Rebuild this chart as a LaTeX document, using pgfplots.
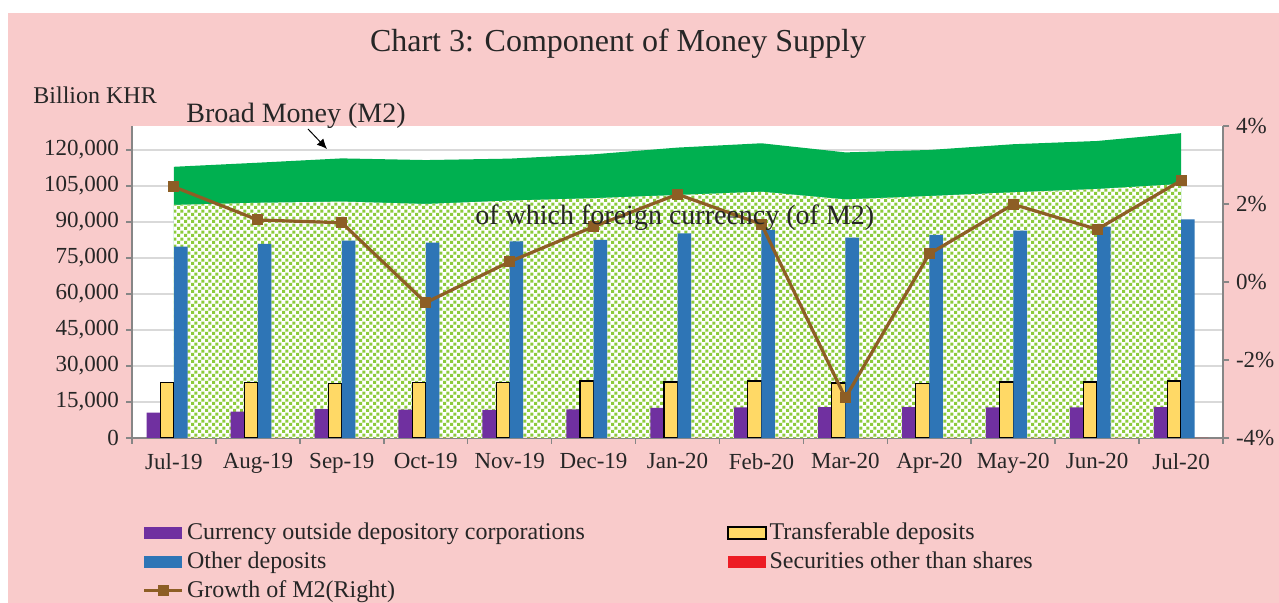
\documentclass[border=0pt]{standalone}
\usepackage{fontspec}
\setmainfont{Liberation Serif}
\usepackage{pgfplots}
\usepackage{pgfplotstable}
\pgfplotsset{compat=1.18}
\usetikzlibrary{patterns,arrows.meta}

\definecolor{bgpink}{HTML}{F9CBCB}
\definecolor{m2green}{HTML}{00B050}
\definecolor{dotgreen}{HTML}{8CCB3C}
\definecolor{purpleC}{HTML}{7030A0}
\definecolor{yellowC}{HTML}{FFD966}
\definecolor{blueC}{HTML}{2E75B6}
\definecolor{redC}{HTML}{ED1C24}
\definecolor{brownC}{HTML}{8D5E25}
\definecolor{axisgray}{HTML}{868686}
\definecolor{gridgray}{HTML}{D9D9D9}
\definecolor{txt}{HTML}{262626}

% small green squares on white, like the Excel pattern fill
\pgfdeclarepatternformonly{greendots}{\pgfqpoint{0pt}{0pt}}{\pgfqpoint{3.4pt}{3.4pt}}{\pgfqpoint{3.4pt}{3.4pt}}{%
  \pgfpathrectangle{\pgfqpoint{0pt}{0pt}}{\pgfqpoint{1.55pt}{1.55pt}}%
  \pgfpathrectangle{\pgfqpoint{1.7pt}{1.7pt}}{\pgfqpoint{1.55pt}{1.55pt}}%
  \pgfusepath{fill}}

% x: Jul-19 ... Jul-20
\pgfplotstableread{
x  cur    trans  other  sec  m2      fc      gr
0  10540  23040  79700  0    113000  97100   2.44
1  10960  23200  80830  0    114700  98000   1.59
2  12080  22640  82200  0    116500  98500   1.52
3  11800  23040  81400  0    115800  97500   -0.53
4  11670  23200  81940  0    116400  98900   0.52
5  11950  23750  82500  0    118200  99900   1.42
6  12500  23330  85280  0    121000  101250  2.25
7  12780  23750  86670  0    122800  102600  1.48
8  12900  22900  83470  0    119000  99400   -2.97
9  12900  22780  84580  0    120000  100800  0.72
10 12780  23330  86390  0    122400  102350  1.99
11 12780  23330  88050  0    123750  103750  1.35
12 12900  23750  91110  0    127000  105800  2.60
}\data

\pgfplotsset{
  base/.style={
    at={(66pt,82.5pt)}, anchor=south west,
    scale only axis, width=545.5pt, height=156pt,
    xmin=-0.5, xmax=12.5,
    axis line style={draw=axisgray, line width=0.8pt},
    tick style={draw=axisgray, line width=0.8pt},
    tick align=outside, major tick length=3pt,
    ticklabel style={font=\fontsize{11.5}{13}\selectfont, text=txt},
  },
}

\begin{document}
\begin{tikzpicture}
\useasboundingbox (0,0) rectangle (639.5pt,301.5pt);
\clip (0,0) rectangle (639.5pt,301.5pt);
\fill[white] (0,0) rectangle (639.5pt,301.5pt);
\fill[bgpink] (4pt,0) rectangle (639.5pt,295pt);

\begin{axis}[base,
  axis background/.style={fill=white},
  axis x line*=bottom, axis y line*=left,
  ymin=0, ymax=130000,
  ytick={0,15000,...,120000},
  yticklabels={0,{15,000},{30,000},{45,000},{60,000},{75,000},{90,000},{105,000},{120,000}},
  ymajorgrids, grid style={draw=gridgray, line width=0.7pt},
  scaled y ticks=false,
  xtick={-0.5,0.5,...,12.5}, xticklabels={},
  extra x ticks={0,...,12},
  extra x tick labels={Jul-19,Aug-19,Sep-19,Oct-19,Nov-19,Dec-19,Jan-20,Feb-20,Mar-20,Apr-20,May-20,Jun-20,Jul-20},
  extra x tick style={major tick length=0pt, tick label style={yshift=-4pt}},
  legend columns=2,
  legend cell align=left,
  legend style={draw=none, fill=none, inner sep=0pt,
    font=\fontsize{12}{14}\selectfont, text=txt,
    at={(axis description cs:0.0092,-0.261)}, anchor=north west,
    nodes={inner sep=1.5pt}, row sep=1.5pt,
    /tikz/every even column/.append style={column sep=69.5pt}},
]
% areas: M2 then foreign currency part over it
\addplot[fill=m2green, draw=none, forget plot] table[x=x,y=m2]{\data} \closedcycle;
\addplot[fill=white, draw=none, forget plot] table[x=x,y=fc]{\data} \closedcycle;
\addplot[pattern=greendots, pattern color=dotgreen, draw=none, forget plot] table[x=x,y=fc]{\data} \closedcycle;

\addplot[ybar, bar width=6.75pt, bar shift=-10.25pt, fill=purpleC, draw=none,
  legend image code/.code={\fill[purpleC] (0pt,-3pt) rectangle (19pt,3pt);}]
  table[x=x,y=cur]{\data};
\addlegendentry{Currency outside depository corporations}
\addplot[ybar, bar width=6.75pt, bar shift=-3.4pt, fill=yellowC, draw=black, line width=0.6pt,
  legend image code/.code={\filldraw[fill=yellowC, draw=black, line width=0.8pt] (0pt,-3pt) rectangle (19pt,3pt);}]
  table[x=x,y=trans]{\data};
\addlegendentry{Transferable deposits}
\addplot[ybar, bar width=6.75pt, bar shift=3.4pt, fill=blueC, draw=none,
  legend image code/.code={\fill[blueC] (0pt,-3pt) rectangle (19pt,3pt);}]
  table[x=x,y=other]{\data};
\addlegendentry{Other deposits}
\addplot[ybar, bar width=6.75pt, bar shift=10.25pt, fill=redC, draw=none,
  legend image code/.code={\fill[redC] (0pt,-3pt) rectangle (19pt,3pt);}]
  table[x=x,y=sec]{\data};
\addlegendentry{Securities other than shares}
\addlegendimage{legend image code/.code={
  \draw[brownC, line width=1.8pt] (0pt,0pt) -- (19pt,0pt);
  \fill[brownC] (7pt,-2.5pt) rectangle (12pt,2.5pt);}}
\addlegendentry{Growth of M2(Right)}
\end{axis}

\begin{axis}[base,
  axis x line=none, axis y line*=right,
  ymin=-4, ymax=4,
  ytick={-4,-2,0,2,4},
  yticklabels={-4\%,-2\%,0\%,2\%,4\%},
  clip=false,
]
\addplot[brownC, line width=1.6pt, mark=square*, mark size=2.5pt,
  mark options={fill=brownC, draw=brownC, line width=0pt}]
  table[x=x,y=gr]{\data};
\end{axis}

\node[anchor=base, font=\fontsize{16}{19}\selectfont, text=txt] at (309pt,275.5pt) {Chart 3: Component of Money Supply};
\node[anchor=base west, inner sep=0pt, font=\fontsize{12}{14}\selectfont, text=txt] at (16.5pt,249.5pt) {Billion KHR};
\node[anchor=base west, inner sep=0pt, font=\fontsize{14}{16}\selectfont, text=txt] at (93pt,240pt) {Broad Money (M2)};
\draw[black, line width=0.5pt, -{Latex[length=5pt,width=4.5pt]}] (154pt,237pt) -- (163.5pt,227pt);
\node[anchor=base west, inner sep=0pt, font=\fontsize{14}{16}\selectfont, text=txt] at (237.5pt,189pt) {of which foreign curreency (of M2)};
\end{tikzpicture}
\end{document}
